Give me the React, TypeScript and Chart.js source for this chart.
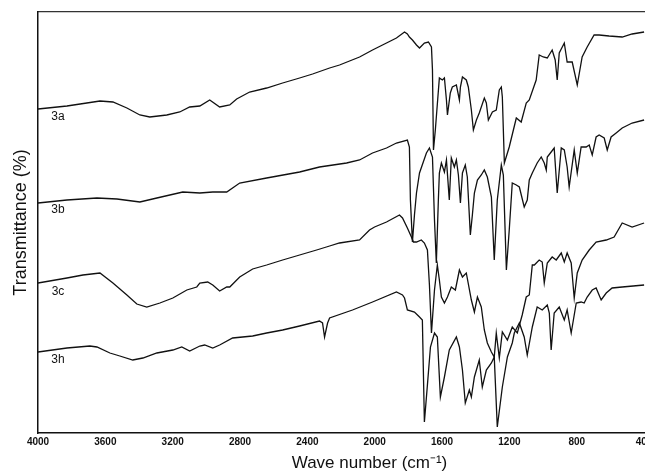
import React, { useEffect, useRef } from "react";
import { Chart, registerables } from "chart.js";

Chart.register(...registerables);

const X_TICKS = [400, 800, 1200, 1600, 2000, 2400, 2800, 3200, 3600, 4000];

const SERIES_NAMES = ["3a", "3b", "3c", "3h"];
const LABEL_WN = [3881, 3881, 3881, 3881];
const LABEL_T = [79, 55.75, 35.25, 18.25];

const A_WN = [4000, 3828, 3632, 3555, 3472, 3395, 3336, 3235, 3158, 3099, 3039, 2980, 2921, 2861, 2820, 2743, 2642, 2547, 2446, 2369, 2268, 2209, 2090, 2013, 1930, 1871, 1823, 1806, 1794, 1776, 1752, 1734, 1705, 1681, 1663, 1657, 1651, 1640, 1616, 1598, 1586, 1574, 1568, 1551, 1539, 1515, 1497, 1491, 1479, 1456, 1444, 1426, 1414, 1396, 1379, 1349, 1337, 1325, 1301, 1278, 1260, 1248, 1242, 1230, 1201, 1159, 1130, 1100, 1082, 1041, 1023, 999, 975, 946, 928, 916, 904, 874, 857, 827, 797, 768, 738, 697, 667, 608, 530, 471, 400];
const A_T = [81, 81.75, 83, 82.75, 81.25, 79.5, 79, 79.5, 80.25, 81.5, 81.75, 83.25, 81.5, 82, 83.5, 85.25, 86.25, 87.5, 88.75, 89.75, 91.25, 92, 94, 95.75, 97.5, 98.75, 100.25, 99.75, 99, 98.25, 97, 96.25, 97.5, 97.75, 96.5, 90.75, 70.75, 75.75, 88.75, 88.25, 88.75, 83.25, 79.5, 85, 86.5, 87, 83.25, 86.5, 89, 88.25, 86.5, 80.75, 75.75, 78.25, 80, 83.75, 82.5, 78.25, 80.25, 80.75, 85.75, 86.5, 84, 67.5, 71.5, 78.75, 77.75, 82.5, 83.25, 88.25, 94.5, 94, 93.75, 95.75, 93.25, 88.25, 95, 97.5, 92.75, 92.75, 87, 94, 96.5, 99.5, 99.5, 99.25, 99, 99.75, 100.25];

const B_WN = [4000, 3828, 3650, 3531, 3395, 3294, 3140, 3039, 2962, 2879, 2802, 2642, 2446, 2328, 2167, 2090, 2013, 1930, 1871, 1806, 1794, 1788, 1776, 1764, 1752, 1734, 1693, 1675, 1657, 1645, 1634, 1622, 1616, 1604, 1586, 1574, 1557, 1545, 1527, 1515, 1503, 1491, 1479, 1462, 1450, 1432, 1420, 1408, 1390, 1367, 1349, 1331, 1307, 1290, 1272, 1248, 1236, 1218, 1201, 1183, 1159, 1141, 1112, 1094, 1082, 1064, 1035, 1011, 993, 981, 975, 952, 934, 916, 892, 874, 857, 845, 815, 797, 774, 744, 726, 708, 685, 667, 637, 619, 596, 566, 530, 471, 400];
const B_T = [57.5, 58.25, 58.75, 58.5, 57.75, 58.75, 60.25, 60, 60.25, 60.25, 62.5, 63.75, 65.25, 66.5, 67.5, 68.25, 70, 71.25, 72.5, 73.25, 71.5, 58.25, 47.75, 54.5, 60, 65, 70, 71.25, 69, 53.25, 42.5, 58.25, 65, 67.5, 65.25, 68.25, 58.25, 68.75, 66.5, 68.25, 64.5, 57.5, 65, 67, 64, 49.5, 54.5, 60, 63.25, 64.5, 65.75, 64, 59, 43.25, 58.25, 67, 64.5, 40.75, 50.75, 62.5, 62, 61.5, 56.5, 58.25, 63.25, 65, 67.5, 69, 67.5, 65.75, 69, 70.25, 71.25, 60, 71.25, 70.75, 66.5, 61.5, 70.75, 65, 71.5, 71.5, 72, 69.5, 74, 74.5, 73.75, 70.75, 74, 75, 76.25, 77.5, 78.25];

const C_WN = [4000, 3828, 3733, 3632, 3555, 3472, 3413, 3354, 3276, 3199, 3116, 3057, 3039, 2992, 2962, 2921, 2879, 2861, 2802, 2725, 2642, 2547, 2446, 2345, 2268, 2209, 2090, 2031, 2001, 1930, 1853, 1835, 1806, 1782, 1770, 1752, 1723, 1705, 1687, 1675, 1663, 1645, 1628, 1616, 1604, 1586, 1568, 1545, 1521, 1497, 1479, 1456, 1426, 1408, 1390, 1367, 1349, 1331, 1307, 1290, 1278, 1260, 1242, 1212, 1183, 1153, 1124, 1100, 1082, 1064, 1052, 1023, 1005, 993, 975, 946, 922, 892, 874, 857, 833, 815, 797, 768, 726, 685, 625, 578, 530, 471, 400];
const C_T = [37.5, 38.75, 39.5, 40, 37.5, 34.5, 32.25, 31.5, 32.5, 33.75, 35.75, 36.5, 37.5, 37.75, 37, 35.5, 36.5, 36.5, 39, 41, 42, 43.25, 44.5, 45.75, 46.75, 47.5, 48.25, 50.75, 51.5, 52.75, 54.5, 53.75, 51.25, 49, 47.75, 47.75, 48.25, 47.5, 45.75, 37, 25, 35.75, 42, 38.25, 34, 32.5, 34, 36.5, 35.75, 40.75, 39, 40, 33.25, 30.25, 34, 31.5, 25.75, 22.5, 20.25, 19, 25, 18.75, 25.25, 23.25, 26.5, 25, 29.5, 34, 34.5, 42, 42, 43.25, 42.75, 37.5, 42.5, 44, 43.25, 45, 42.75, 45, 42.5, 33.75, 40, 43.25, 45.75, 47.75, 48.25, 49, 52.5, 51.5, 52.5];

const H_WN = [4000, 3828, 3692, 3650, 3573, 3514, 3437, 3377, 3294, 3199, 3146, 3099, 3039, 3010, 2962, 2921, 2844, 2725, 2642, 2547, 2446, 2328, 2310, 2298, 2280, 2268, 2132, 2013, 1871, 1835, 1823, 1806, 1764, 1734, 1717, 1705, 1687, 1669, 1645, 1628, 1610, 1586, 1557, 1515, 1497, 1479, 1462, 1438, 1426, 1408, 1379, 1361, 1337, 1307, 1290, 1272, 1242, 1212, 1183, 1171, 1141, 1112, 1094, 1064, 1035, 1005, 975, 963, 952, 934, 904, 874, 857, 833, 803, 774, 756, 738, 708, 685, 655, 625, 590, 530, 400];
const H_T = [20.25, 21.25, 21.75, 21.5, 20, 19.25, 18.25, 18.75, 20, 20.75, 21.5, 20.5, 21.75, 22, 21.25, 22, 23.75, 24.25, 25, 25.75, 26.75, 28, 27.5, 24, 27.5, 28.75, 30.75, 32.75, 35.25, 34.5, 33.75, 30.75, 30.25, 29, 28.25, 2.75, 12, 21.5, 25, 24, 9, 14, 20.75, 24, 21.5, 15.75, 7.5, 10.75, 9, 14, 18.25, 11.5, 15.75, 17.5, 19, 1.5, 11.5, 19, 22.5, 25, 27.5, 24, 19.5, 26.5, 31.5, 30.75, 32, 30, 20.75, 30, 31.5, 28.25, 30.75, 25, 32.5, 32.75, 32.5, 34, 35.75, 36.25, 33.25, 35, 36.25, 36.5, 37];

const FONT = "'Liberation Sans', Arial, Helvetica, sans-serif";

function pts(xs: number[], ys: number[]) {
  return xs.map((x, i) => ({ x, y: ys[i] }));
}

const seriesLabels = {
  id: "seriesLabels",
  afterDatasetsDraw(chart: any) {
    const { ctx, scales } = chart;
    ctx.save();
    ctx.font = `12px ${FONT}`;
    ctx.fillStyle = "#111";
    ctx.textAlign = "center";
    ctx.textBaseline = "middle";
    SERIES_NAMES.forEach((name, i) => {
      ctx.fillText(name, scales.x.getPixelForValue(LABEL_WN[i]), scales.y.getPixelForValue(LABEL_T[i]));
    });
    ctx.restore();
  },
};

export default function App() {
  const ref = useRef<HTMLCanvasElement | null>(null);
  useEffect(() => {
    if (!ref.current) return;
    const line = (data: any) => ({
      data,
      borderColor: "#111",
      borderWidth: 1.3,
      pointRadius: 0,
      fill: false,
      tension: 0,
    });
    const chart = new Chart(ref.current, {
      type: "line",
      data: {
        datasets: [
          line(pts(A_WN, A_T)),
          line(pts(B_WN, B_T)),
          line(pts(C_WN, C_T)),
          line(pts(H_WN, H_T)),
        ],
      },
      options: {
        animation: false,
        responsive: false,
        devicePixelRatio: 1,
        layout: { padding: { top: 12, right: 19, left: 0, bottom: 0 } },
        plugins: { legend: { display: false }, tooltip: { enabled: false } },
        scales: {
          x: {
            type: "linear",
            position: "bottom",
            reverse: true,
            min: 62,
            max: 4000,
            afterBuildTicks: (s: any) => {
              s.ticks = X_TICKS.map((v) => ({ value: v }));
            },
            afterFit: (s: any) => {
              s.height = 41;
            },
            grid: { display: false, drawTicks: false },
            border: { display: true, color: "#111", width: 1.5 },
            ticks: {
              autoSkip: false,
              maxRotation: 0,
              padding: 3,
              color: "#111",
              font: { family: FONT, size: 10, weight: "bold" },
              callback: (v: any) => String(v),
            },
            title: {
              display: true,
              text: "Wave number (cm\u207B\u00B9)",
              color: "#111",
              font: { family: FONT, size: 17 },
              padding: { top: 0, bottom: 0 },
            },
          },
          x2: {
            type: "linear",
            position: "top",
            reverse: true,
            min: 62,
            max: 4000,
            afterFit: (s: any) => {
              s.height = 0;
            },
            grid: { display: false, drawTicks: false },
            border: { display: true, color: "#333", width: 1.2 },
            ticks: { display: false },
          },
          y: {
            type: "linear",
            position: "left",
            min: 0,
            max: 105.25,
            afterFit: (s: any) => {
              s.width = 38;
            },
            grid: { display: false, drawTicks: false },
            border: { display: true, color: "#111", width: 1.5 },
            ticks: { display: false },
            title: {
              display: true,
              text: "Transmittance (%)",
              color: "#111",
              font: { family: FONT, size: 18 },
              padding: { top: 10, bottom: 0 },
            },
          },
        },
      },
      plugins: [seriesLabels],
    } as any);
    return () => chart.destroy();
  }, []);
  return (
    <div style={{ position: "absolute", left: 0, top: 0, width: 645, height: 474, overflow: "hidden", background: "#fff" }}>
      <canvas ref={ref} width={720} height={474} style={{ display: "block", width: 720, height: 474 }} />
    </div>
  );
}
